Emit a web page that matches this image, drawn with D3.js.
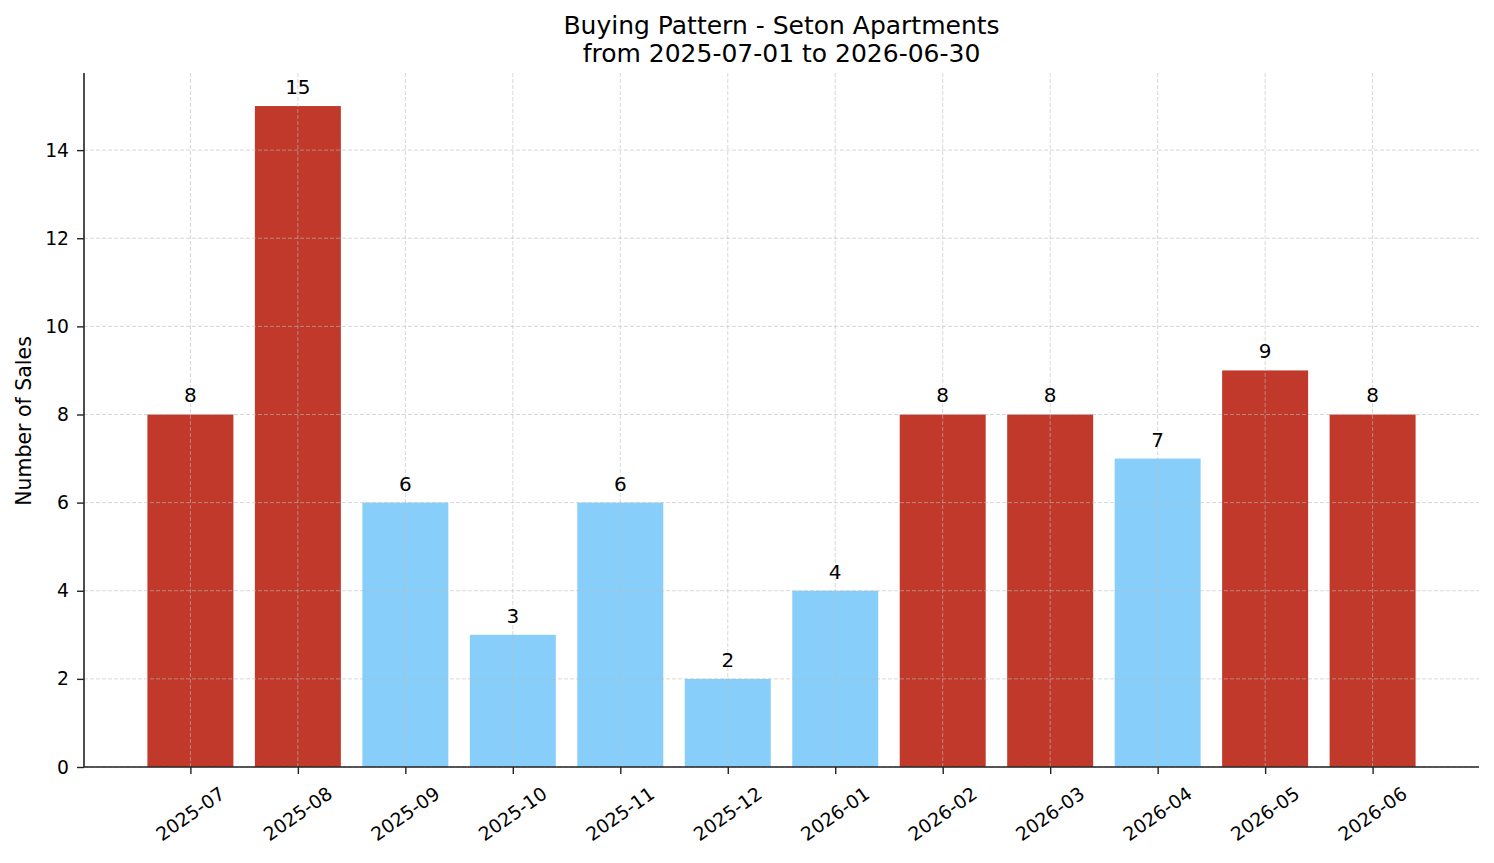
<!DOCTYPE html>
<html>
<head>
<meta charset="utf-8">
<script src="https://cdn.jsdelivr.net/npm/d3@7"></script>
<style>
	body { margin: 0; background: #fff; }
	text { font-family: "DejaVu Sans", sans-serif; fill: #000; }
</style>
</head>
<body>
<div id="chart"></div>
<script>
// chart data
var months = ["2025-07", "2025-08", "2025-09", "2025-10", "2025-11", "2025-12",
	"2026-01", "2026-02", "2026-03", "2026-04", "2026-05", "2026-06"];
var sales = [8, 15, 6, 3, 6, 2, 4, 8, 8, 7, 9, 8];
var yTicks = [0, 2, 4, 6, 8, 10, 12, 14];
var titleLines = ["Buying Pattern - Seton Apartments", "from 2025-07-01 to 2026-06-30"];
var yLabel = "Number of Sales";
var highColor = "#c0392b", lowColor = "#87cefa";
var threshold = 8; // months with 8+ sales are red

function draw(id) {
	var W = 1494, H = 863;
	var left = 84, right = 1479, top = 73, bottom = 767;
	var tickFs = 18.75, labFs = 20.5;
	var svg = d3.select(id).append("svg").attr("width", W).attr("height", H);

	// linear scale over category index, like matplotlib's categorical axis
	var x = d3.scaleLinear().domain([-0.99, months.length - 1 + 0.99]).range([left, right]);
	var y = d3.scaleLinear().domain([0, 15.75]).range([bottom, top]);
	var bw = x(0.4) - x(-0.4);

	// bars
	svg.append("g").selectAll("rect").data(sales).enter().append("rect")
		.attr("x", function(d, i) { return x(i) - bw / 2; })
		.attr("y", function(d) { return y(d); })
		.attr("width", bw)
		.attr("height", function(d) { return y(0) - y(d); })
		.attr("fill", function(d) { return d >= threshold ? highColor : lowColor; });

	// grid (drawn over the bars)
	var grid = svg.append("g").attr("stroke", "#bdbdbd").attr("stroke-opacity", 0.65)
		.attr("stroke-width", 0.9).attr("stroke-dasharray", "4,2");
	grid.selectAll(".gy").data(yTicks).enter().append("line")
		.attr("x1", left).attr("x2", right)
		.attr("y1", function(d) { return y(d); }).attr("y2", function(d) { return y(d); });
	grid.selectAll(".gx").data(months).enter().append("line")
		.attr("y1", top).attr("y2", bottom)
		.attr("x1", function(d, i) { return x(i); }).attr("x2", function(d, i) { return x(i); });

	// value labels
	svg.append("g").selectAll("text").data(sales).enter().append("text")
		.attr("x", function(d, i) { return x(i); })
		.attr("y", function(d) { return y(d) - 12; })
		.attr("text-anchor", "middle")
		.style("font-size", "20px")
		.text(function(d) { return d; });

	// y axis
	var yAxis = svg.append("g").attr("transform", "translate(" + left + ",0)")
		.call(d3.axisLeft(y).tickValues(yTicks).tickSize(7).tickPadding(8));
	yAxis.select(".domain").attr("d", "M0," + top + "V" + bottom).attr("stroke", "#222").attr("stroke-width", 1.6);
	yAxis.selectAll(".tick line").attr("stroke", "#222").attr("stroke-width", 1.4);
	yAxis.selectAll(".tick text").style("font-size", tickFs + "px").style("font-family", "DejaVu Sans").attr("fill", "#000");

	// x axis
	var xAxis = svg.append("g").attr("transform", "translate(0," + bottom + ")")
		.call(d3.axisBottom(x).tickValues(d3.range(months.length)).tickSize(7).tickFormat(""));
	xAxis.select(".domain").attr("d", "M" + left + ",0H" + right).attr("stroke", "#222").attr("stroke-width", 1.6);
	xAxis.selectAll(".tick line").attr("stroke", "#222").attr("stroke-width", 1.4);

	// rotated month labels, centred under ticks
	var ang = 35, rad = ang * Math.PI / 180;
	var lab = svg.append("g").selectAll("text").data(months).enter().append("text")
		.style("font-size", tickFs + "px")
		.attr("text-anchor", "middle")
		.attr("dominant-baseline", "central")
		.text(function(d) { return d; });
	lab.each(function(d, i) {
		var w = this.getComputedTextLength();
		var h = tickFs * 1.1;
		var bh = w * Math.sin(rad) + h * Math.cos(rad);
		var cx = x(i), cy = bottom + 16 + bh / 2;
		d3.select(this).attr("x", cx).attr("y", cy)
			.attr("transform", "rotate(" + (-ang) + "," + cx + "," + cy + ")");
	});

	// y label
	svg.append("text")
		.attr("transform", "translate(31," + ((top + bottom) / 2 + 1) + ") rotate(-90)")
		.attr("text-anchor", "middle")
		.style("font-size", labFs + "px")
		.text(yLabel);

	// title
	svg.append("g").selectAll("text").data(titleLines).enter().append("text")
		.attr("x", (left + right) / 2)
		.attr("y", function(d, i) { return 34 + i * 28; })
		.attr("text-anchor", "middle")
		.style("font-size", "25px")
		.text(function(d) { return d; });
}

window.onload = function () {
	draw('#chart');
};
</script>
</body>
</html>
